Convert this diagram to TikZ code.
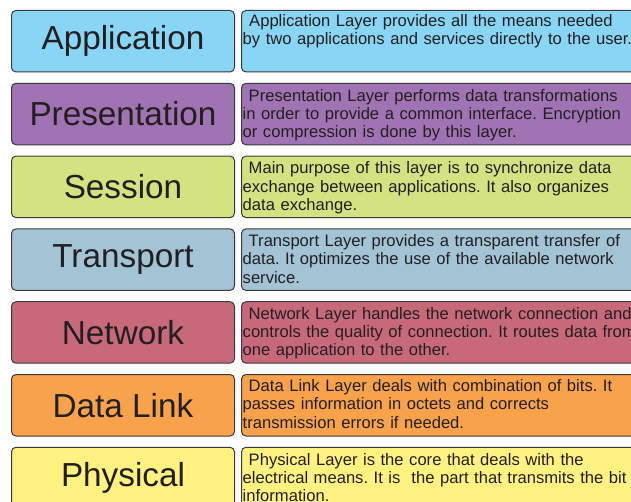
\documentclass[tikz,border=0pt]{standalone}
\usepackage{fontspec}
\setmainfont{Liberation Sans}
\usetikzlibrary{calc}
\frenchspacing

\definecolor{ink}{HTML}{231F20}
\definecolor{edge}{HTML}{3A3A3A}
\definecolor{appC}{HTML}{89D5F5}
\definecolor{presC}{HTML}{9F73B4}
\definecolor{sessC}{HTML}{D4E282}
\definecolor{tranC}{HTML}{A3C4D4}
\definecolor{netC}{HTML}{C8697A}
\definecolor{dlC}{HTML}{F8A34C}
\definecolor{physC}{HTML}{FFF280}

% one row: id, top, fill, layer name, text offset, description
\newcommand\layerrow[6]{%
  \node[namebox, fill=#3] (name#1) at (11,#2) {#4};
  \node[descbox, fill=#3] (desc#1) at (241,#2) {};
  \node[desctext] (text#1) at ($(desc#1.north west)+(1.5,#5)$) {#6};
}

\begin{document}
\begin{tikzpicture}[x=1bp, y=-1bp,
  layerbox/.style={draw=edge, line width=1bp, rounded corners=4.5bp,
    inner sep=0pt, anchor=north west},
  namebox/.style={layerbox, minimum width=223bp, minimum height=61.5bp,
    text=ink, font=\fontsize{33.3bp}{36bp}\selectfont},
  descbox/.style={layerbox, minimum width=460bp, minimum height=61.5bp},
  desctext/.style={anchor=north west, inner sep=0pt, text width=440bp,
    align=left, text=ink, font=\fontsize{16.6bp}{18.2bp}\selectfont}]
\useasboundingbox (0,0) rectangle (631,502);
\clip (0,0) rectangle (631,502);

\layerrow{1}{10}{appC}{Application}{4.5}{\hspace*{6.5bp}Application Layer provides all the means needed\\by two applications and services directly to the user.}
\layerrow{2}{82.8}{presC}{Presentation}{6}{\hspace*{6bp}Presentation Layer performs data transformations\\in order to provide a common interface. Encryption\\or compression is done by this layer.}
\layerrow{3}{155.6}{sessC}{Session}{6}{\hspace*{6bp}Main purpose of this layer is to synchronize data\\exchange between applications. It also organizes\\data exchange.}
\layerrow{4}{228.4}{tranC}{Transport}{6}{\hspace*{6bp}Transport Layer provides a transparent transfer of\\data. It optimizes the use of the available network\\service.}
\layerrow{5}{301.2}{netC}{Network}{6}{\hspace*{6bp}Network Layer handles the network connection and\\controls the quality of connection. It routes data from\\one application to the other.}
\layerrow{6}{374}{dlC}{Data Link}{5.5}{\hspace*{6bp}Data Link Layer deals with combination of bits. It\\passes information in octets and corrects\\transmission errors if needed.}
\layerrow{7}{446.8}{physC}{Physical}{6}{\hspace*{6bp}Physical Layer is the core that deals with the\\electrical means. It is\ \ the part that transmits the bit\\information.}
\end{tikzpicture}
\end{document}
